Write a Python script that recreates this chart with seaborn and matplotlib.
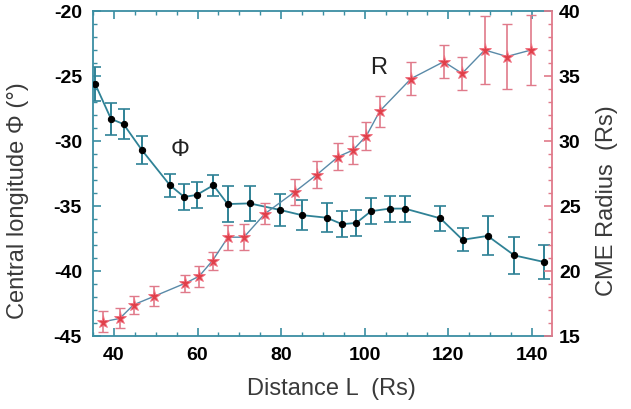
import matplotlib
matplotlib.use("Agg")
import matplotlib.pyplot as plt
from matplotlib.ticker import MultipleLocator
import seaborn as sns
import pandas as pd

# ---- data ----
phi_L = [35.5, 39.3, 42.3, 46.7, 53.4, 56.8, 59.8, 63.8, 67.2, 72.5, 79.7, 84.9,
         90.9, 94.6, 98.0, 101.5, 106.0, 109.6, 118.1, 123.4, 129.4, 135.8, 142.8]
phi_val = [-25.6, -28.3, -28.7, -30.7, -33.4, -34.3, -34.15, -33.4, -34.85, -34.8,
           -35.3, -35.7, -35.9, -36.4, -36.3, -35.4, -35.2, -35.2, -35.95, -37.6,
           -37.3, -38.8, -39.3]
phi_err = [1.3, 1.2, 1.15, 1.1, 0.9, 1.0, 1.0, 0.8, 1.4, 1.35, 1.25, 1.15, 1.1,
           1.0, 1.0, 1.0, 1.0, 1.0, 0.95, 0.87, 1.5, 1.4, 1.3]

r_L = [37.5, 41.4, 44.7, 49.6, 57.0, 60.4, 63.6, 67.3, 71.1, 76.1, 83.3, 88.5,
       93.7, 97.2, 100.4, 103.6, 111.1, 118.9, 123.3, 128.7, 134.0, 139.8]
r_val = [16.1, 16.35, 17.4, 18.05, 19.05, 19.6, 20.8, 22.6, 22.6, 24.4, 26.1, 27.4,
         28.8, 29.3, 30.4, 32.3, 34.8, 36.1, 35.2, 37.0, 36.5, 37.0]
r_err = [0.8, 0.77, 0.7, 0.77, 0.64, 0.8, 0.7, 0.95, 1.0, 0.8, 1.0, 1.05, 1.05,
         1.1, 1.1, 1.2, 1.25, 1.25, 1.3, 2.6, 2.5, 2.7]

x_ticks = [40, 60, 80, 100, 120, 140]
phi_ticks = [-45, -40, -35, -30, -25, -20]
r_ticks = [15, 20, 25, 30, 35, 40]

# ---- style ----
sns.set_style("white")
plt.rcParams['font.family'] = ['Liberation Sans', 'DejaVu Sans']

TEAL = "#2f8296"
SPINE_T = "#3a8ea2"
PINK = "#e07a8a"
RED = "#e0404a"
LABEL_C = "#3a3a3a"

fig = plt.figure(figsize=(6.31, 4.10), dpi=100)
ax = fig.add_axes([93/631, 1-337/410, (552-93)/631, (337-12)/410])
ax2 = ax.twinx()

df_phi = pd.DataFrame({"L": phi_L, "phi": phi_val})
df_r = pd.DataFrame({"L": r_L, "R": r_val})

# Phi series (left axis)
ax.errorbar(phi_L, phi_val, yerr=phi_err, fmt='none', ecolor=TEAL, elinewidth=1.4,
            capsize=4, capthick=1.2, zorder=2)
sns.lineplot(data=df_phi, x="L", y="phi", ax=ax, color=TEAL, linewidth=1.3,
             marker='o', markersize=4.5, markerfacecolor='black',
             markeredgecolor='black', estimator=None, zorder=3)

# R series (right axis)
ax2.errorbar(r_L, r_val, yerr=r_err, fmt='none', ecolor=PINK, elinewidth=1.2,
             capsize=3.5, capthick=1.0, zorder=2)
sns.lineplot(data=df_r, x="L", y="R", ax=ax2, color="#5a8aa8", linewidth=1.0,
             marker='*', markersize=9.5, markerfacecolor=RED, markeredgecolor="#f07080",
             markeredgewidth=0.6, estimator=None, zorder=3)

ax.set_xlim(35, 144.8)
ax.set_ylim(-45, -20)
ax2.set_ylim(15, 40)

ax.set_xticks(x_ticks)
ax.set_xticklabels([str(v) for v in x_ticks])
ax.set_yticks(phi_ticks)
ax.set_yticklabels([str(v) for v in phi_ticks])
ax2.set_yticks(r_ticks)
ax2.set_yticklabels([str(v) for v in r_ticks])
ax.xaxis.set_minor_locator(MultipleLocator(5))
ax.yaxis.set_minor_locator(MultipleLocator(1))
ax2.yaxis.set_minor_locator(MultipleLocator(1))

for s in ['left', 'top', 'bottom']:
    ax.spines[s].set_color(SPINE_T)
    ax.spines[s].set_linewidth(1.3)
    ax.spines[s].set_visible(True)
ax.spines['right'].set_visible(False)
for s in ['left', 'top', 'bottom']:
    ax2.spines[s].set_visible(False)
ax2.spines['right'].set_visible(True)
ax2.spines['right'].set_color(PINK)
ax2.spines['right'].set_linewidth(1.3)

tick_font = dict(labelsize=14, labelcolor='black')
ax.tick_params(axis='x', which='both', direction='in', top=True, bottom=True,
               color=SPINE_T, pad=7, **tick_font)
ax.tick_params(axis='x', which='major', length=6, width=1.2)
ax.tick_params(axis='x', which='minor', length=3, width=1.0)
ax.tick_params(axis='y', which='both', direction='in', left=True, right=False,
               color=SPINE_T, pad=8, **tick_font)
ax.tick_params(axis='y', which='major', length=6, width=1.2)
ax.tick_params(axis='y', which='minor', length=3, width=1.0)
ax2.tick_params(axis='y', which='both', direction='in', right=True, left=False,
                color=PINK, pad=5, **tick_font)
ax2.tick_params(axis='y', which='major', length=6, width=1.2)
ax2.tick_params(axis='y', which='minor', length=3, width=1.0)

for lab in ax.get_xticklabels() + ax.get_yticklabels() + ax2.get_yticklabels():
    lab.set_fontweight('bold')

ax.set_xlabel("Distance L  (Rs)", fontsize=17, color=LABEL_C)
ax.set_ylabel("Central longitude Φ (°)", fontsize=17, color=LABEL_C)
ax2.set_ylabel("CME Radius  (Rs)", fontsize=17, color=LABEL_C, rotation=90)
ax.xaxis.set_label_coords(0.52, -0.125)
ax.yaxis.set_label_coords(-0.14, 0.42)
ax2.yaxis.set_label_coords(1.095, 0.42)

ax.text(55.9, -30.6, "Φ", fontsize=17, color="#222222", ha='center', va='center')
ax2.text(103.4, 35.7, "R", fontsize=17, color="#222222", ha='center', va='center')

fig.savefig("out.png", dpi=100)
